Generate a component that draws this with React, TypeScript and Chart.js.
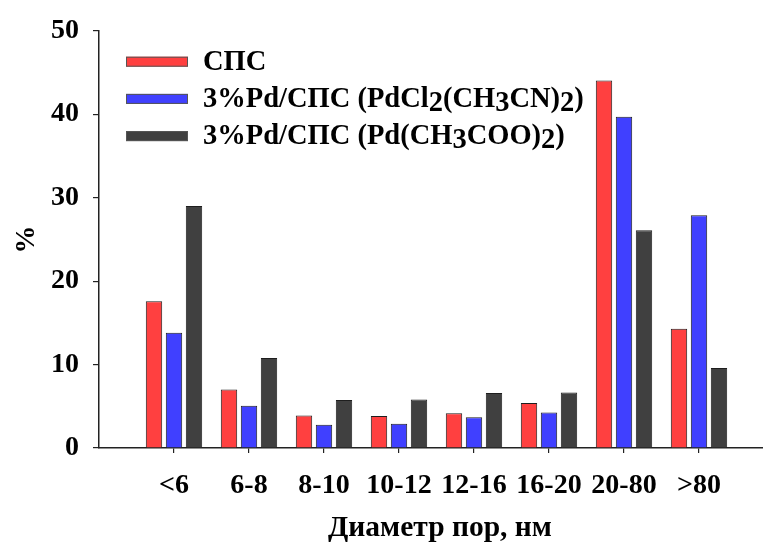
import React, { useEffect, useRef } from 'react';
import { Chart, registerables } from 'chart.js';

Chart.register(...registerables);

const categories = ['<6', '6-8', '8-10', '10-12', '12-16', '16-20', '20-80', '>80'];
const seriesLabels = ['СПС', '3%Pd/СПС (PdCl2(CH3CN)2)', '3%Pd/СПС (Pd(CH3COO)2)'];
const spsValues = [17.6, 7.0, 3.9, 3.85, 4.15, 5.4, 44.05, 14.3];
const pdClValues = [13.8, 5.05, 2.8, 2.9, 3.7, 4.25, 39.7, 27.9];
const pdAcValues = [29.0, 10.8, 5.75, 5.8, 6.6, 6.65, 26.1, 9.6];
const yTicks = [0, 10, 20, 30, 40, 50];
const xTitle = 'Диаметр пор, нм';
const yTitle = '%';
const colors = ['#ff4040', '#4040ff', '#404040'];

const FONT = '"Liberation Serif", "Times New Roman", serif';

const legendPlugin = {
  id: 'insideLegend',
  afterDraw(chart: any) {
    const ctx = chart.ctx as CanvasRenderingContext2D;
    ctx.save();
    ctx.font = `bold 28.5px ${FONT}`;
    ctx.textBaseline = 'middle';
    ctx.textAlign = 'left';
    chart.data.datasets.forEach((ds: any, i: number) => {
      const cy = 61.7 + i * 37.2;
      ctx.fillStyle = ds.backgroundColor;
      ctx.fillRect(126, cy - 5, 62, 10);
      ctx.strokeStyle = '#555';
      ctx.lineWidth = 1;
      ctx.strokeRect(126.5, cy - 4.5, 61, 9);
      const text: string = ds.label;
      const runs: { t: string; sub: boolean }[] = [];
      for (let k = 0; k < text.length; k++) {
        const ch = text[k];
        const sub = /\d/.test(ch) && k > 0 && /[A-Za-z)]/.test(text[k - 1]);
        const last = runs[runs.length - 1];
        if (last && last.sub === sub) last.t += ch;
        else runs.push({ t: ch, sub });
      }
      let x = 203;
      ctx.fillStyle = '#000';
      runs.forEach((r) => {
        ctx.fillText(r.t, x, cy + 1 + (r.sub ? 4 : 0));
        x += ctx.measureText(r.t).width;
      });
    });
    // x-axis title, centred under the plotted categories
    ctx.font = `bold 29.5px ${FONT}`;
    ctx.textAlign = 'center';
    ctx.textBaseline = 'alphabetic';
    ctx.fillStyle = '#000';
    ctx.fillText(xTitle, 440, 536);
    ctx.restore();
  },
};

export default function App() {
  const ref = useRef<HTMLCanvasElement | null>(null);
  useEffect(() => {
    if (!ref.current) return;
    const series = [spsValues, pdClValues, pdAcValues];
    const chart = new Chart(ref.current, {
      type: 'bar',
      data: {
        datasets: series.map((vals, si) => ({
          label: seriesLabels[si],
          data: categories.map((_, i) => ({ x: i + 1, y: vals[i] })),
          backgroundColor: colors[si],
          borderColor: '#1e1e1e',
          borderWidth: 1,
          barPercentage: 0.82,
          categoryPercentage: 0.8,
        })),
      },
      options: {
        responsive: false,
        animation: false,
        layout: { padding: { top: 25, right: 0, left: 0, bottom: 0 } },
        plugins: { legend: { display: false }, tooltip: { enabled: false } },
        scales: {
          x: {
            type: 'linear',
            offset: false,
            min: 0,
            max: (763 - 99) / 75,
            afterBuildTicks: (scale: any) => {
              scale.ticks = categories.map((_, i) => ({ value: i + 1 }));
            },
            afterFit: (scale: any) => {
              scale.height = 94;
            },
            grid: { offset: false, drawOnChartArea: false, drawTicks: true, tickLength: 5, color: '#222', lineWidth: 1.2 },
            border: { display: true, color: '#222', width: 1.5 },
            ticks: {
              autoSkip: false,
              maxRotation: 0,
              padding: 16,
              color: '#000',
              font: { family: FONT, size: 28, weight: 'bold' },
              callback: (v: any) => categories[Number(v) - 1] ?? '',
            },
            title: { display: false, text: xTitle },
          },
          y: {
            min: 0,
            max: 50,
            afterBuildTicks: (scale: any) => {
              scale.ticks = yTicks.map((v) => ({ value: v }));
            },
            afterFit: (scale: any) => {
              scale.width = 99;
            },
            grid: { drawOnChartArea: false, drawTicks: true, tickLength: 6, color: '#222', lineWidth: 1.2 },
            border: { display: true, color: '#222', width: 1.5 },
            ticks: {
              padding: 14,
              color: '#000',
              font: { family: FONT, size: 28, weight: 'bold' },
            },
            title: {
              display: true,
              text: yTitle,
              color: '#000',
              font: { family: FONT, size: 28, weight: 'bold' },
              padding: { top: 10, bottom: 0 },
            },
          },
        },
      } as any,
      plugins: [legendPlugin],
    });
    return () => chart.destroy();
  }, []);
  return (
    <div style={{ position: 'fixed', left: 0, top: 0, width: 763, height: 542, background: '#fff' }}>
      <canvas ref={ref} width={763} height={542} style={{ display: 'block' }} />
    </div>
  );
}
